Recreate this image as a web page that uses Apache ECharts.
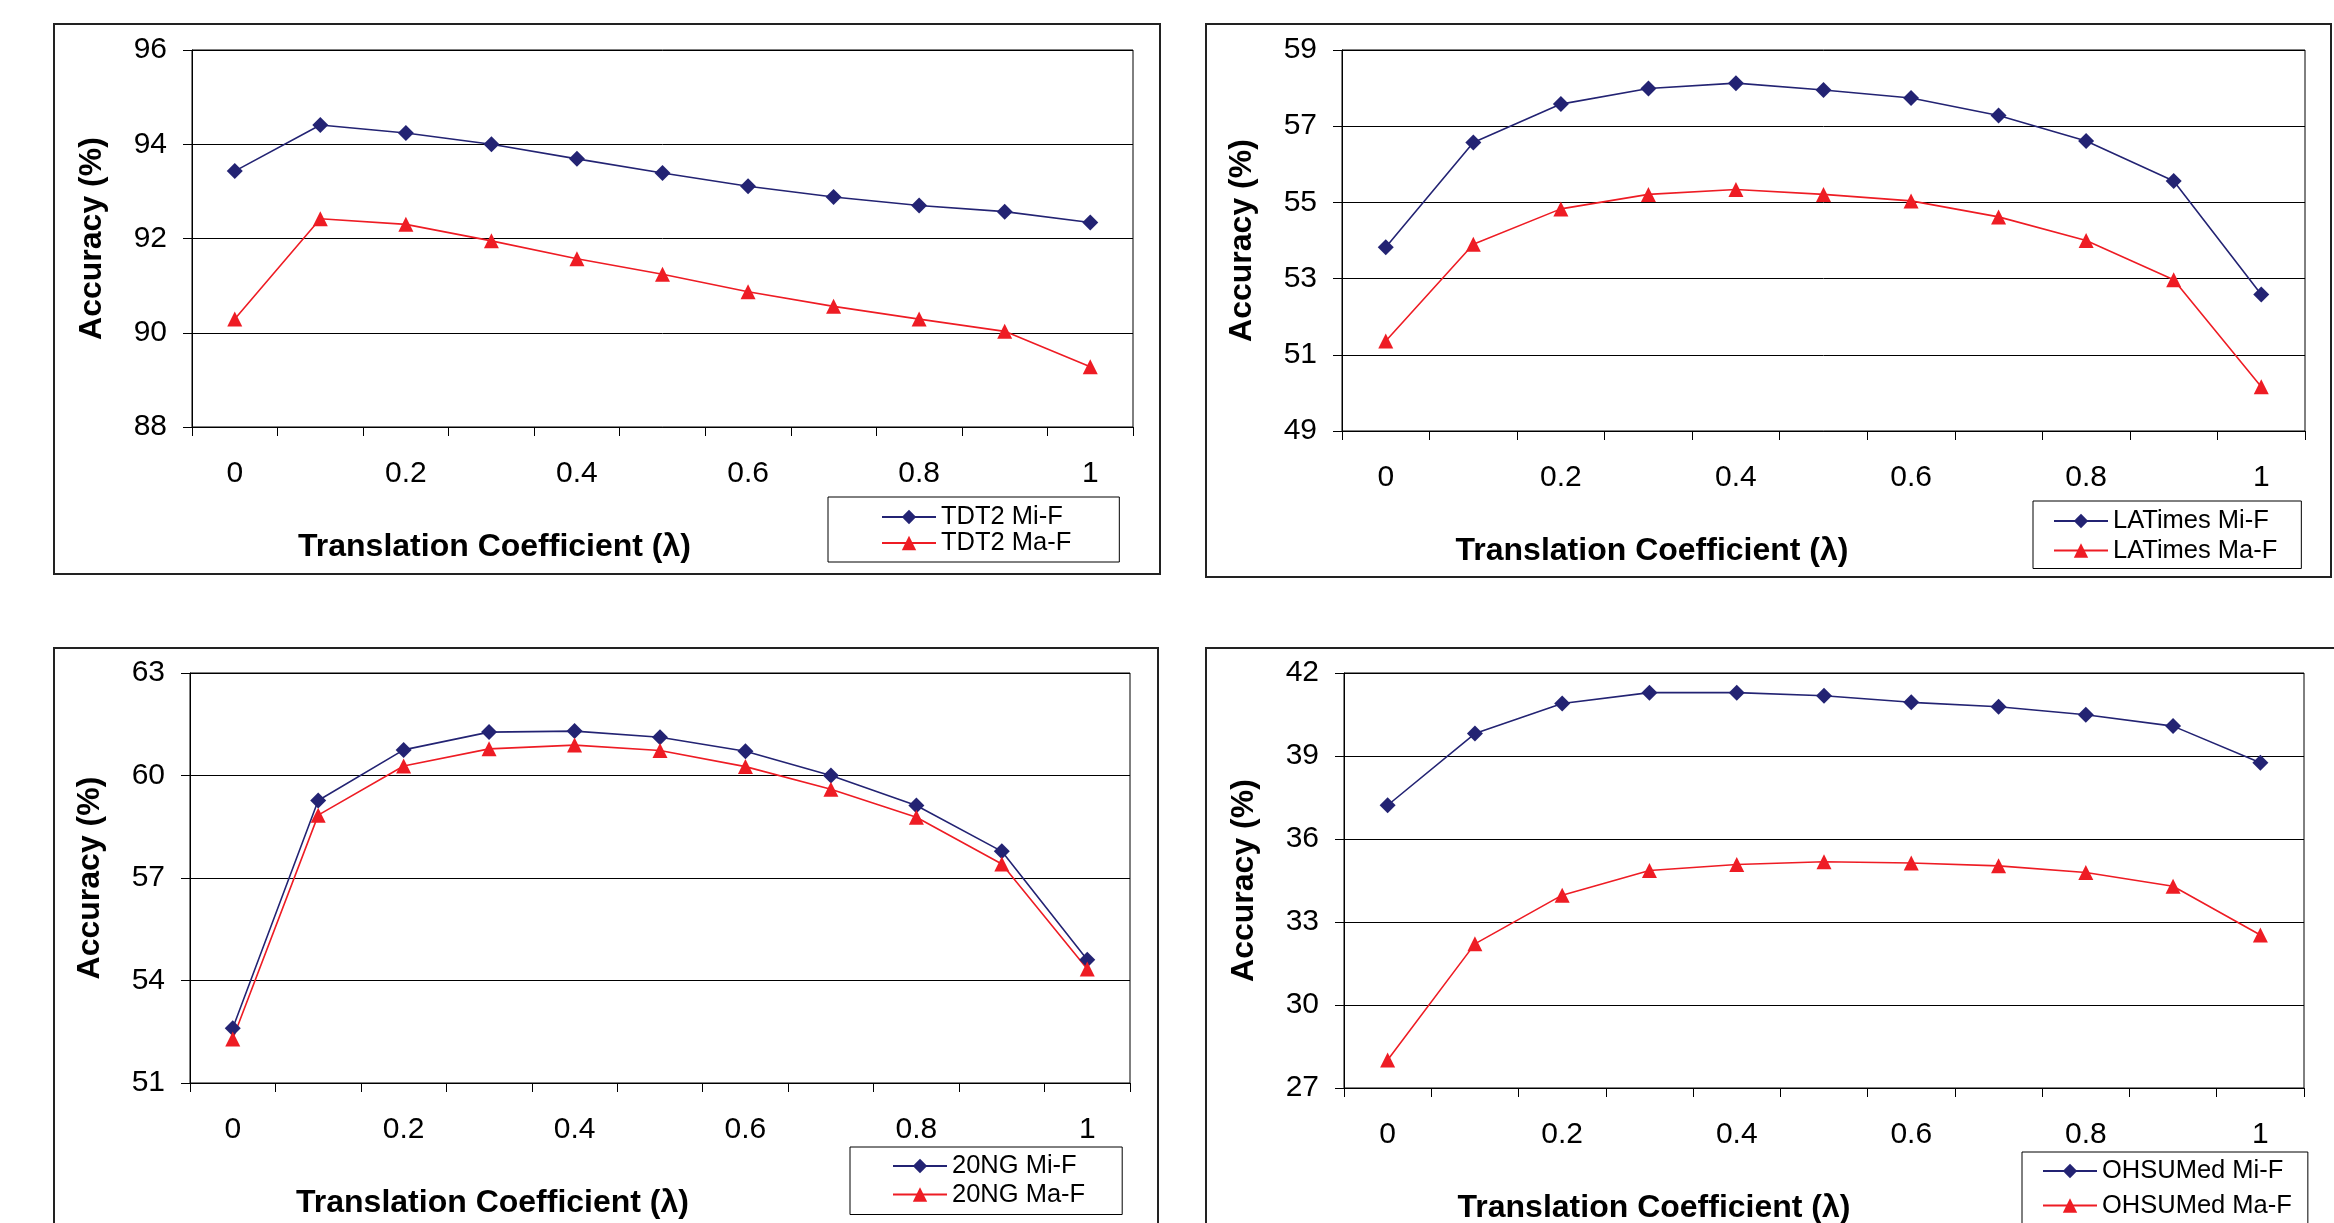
<!DOCTYPE html>
<html>
<head>
<meta charset="utf-8">
<script src="https://cdn.jsdelivr.net/npm/echarts@6/dist/echarts.min.js"></script>
<style>
html, body { margin: 0; padding: 0; background: #fff; }
#chart { width: 2334px; height: 1223px; }
</style>
</head>
<body>
<div id="chart"></div>
<script>
// x categories (translation coefficient lambda)
var lambdas = ['0', '0.1', '0.2', '0.3', '0.4', '0.5', '0.6', '0.7', '0.8', '0.9', '1'];

// TDT2
var tdt2Mi = [93.43, 94.41, 94.24, 94.0, 93.69, 93.39, 93.11, 92.88, 92.70, 92.57, 92.34];
var tdt2Ma = [90.29, 92.42, 92.30, 91.95, 91.57, 91.24, 90.87, 90.56, 90.29, 90.03, 89.28];
var tdt2Ticks = [88, 90, 92, 94, 96];

// LATimes
var laMi = [53.82, 56.57, 57.58, 57.99, 58.13, 57.95, 57.74, 57.28, 56.61, 55.56, 52.58];
var laMa = [51.36, 53.90, 54.83, 55.21, 55.34, 55.21, 55.04, 54.62, 54.00, 52.97, 50.16];
var laTicks = [49, 51, 53, 55, 57, 59];

// 20NG
var ngMi = [52.60, 59.27, 60.75, 61.27, 61.30, 61.12, 60.71, 60.0, 59.12, 57.78, 54.61];
var ngMa = [52.29, 58.84, 60.28, 60.78, 60.89, 60.73, 60.26, 59.60, 58.78, 57.41, 54.34];
var ngTicks = [51, 54, 57, 60, 63];

// OHSUMed
var ohMi = [37.22, 39.81, 40.90, 41.29, 41.29, 41.18, 40.94, 40.78, 40.49, 40.08, 38.76];
var ohMa = [28.01, 32.21, 33.97, 34.86, 35.08, 35.18, 35.13, 35.03, 34.79, 34.29, 32.53];
var ohTicks = [27, 30, 33, 36, 39, 42];

var chart = echarts.init(document.getElementById('chart'));
var font = 'Liberation Sans, Arial, sans-serif';
var blue = '#232373';
var red = '#ee1c24';

var panels = [
    {name: 'TDT2', mi: tdt2Mi, ma: tdt2Ma, ticks: tdt2Ticks,
     grid: {left: 192, top: 50, width: 941, height: 377},
     legend: {left: 828, top: 497, padding: [7, 48, 6, 53], itemGap: 0},
     box: [54, 24, 1106, 550], namePad: 336},
    {name: 'LATimes', mi: laMi, ma: laMa, ticks: laTicks,
     grid: {left: 1342, top: 50, width: 963, height: 381},
     legend: {left: 2033, top: 501, padding: [7, 24, 5, 20], itemGap: 3.5},
     box: [1206, 24, 1125, 553], namePad: 343},
    {name: '20NG', mi: ngMi, ma: ngMa, ticks: ngTicks,
     grid: {left: 190, top: 673, width: 940, height: 410},
     legend: {left: 850, top: 1147, padding: [6, 37, 7, 42], itemGap: 2.5},
     box: [54, 648, 1104, 620], namePad: 335},
    {name: 'OHSUMed', mi: ohMi, ma: ohMa, ticks: ohTicks,
     grid: {left: 1344, top: 673, width: 960, height: 415},
     legend: {left: 2022, top: 1152, padding: [6, 16, 8, 20], itemGap: 8.5},
     box: [1206, 648, 1130, 620], namePad: 340}
];

var grids = [], xAxes = [], yAxes = [], series = [], legends = [], graphics = [];

panels.forEach(function (p, i) {
    grids.push({
        left: p.grid.left, top: p.grid.top, width: p.grid.width, height: p.grid.height,
        show: true, borderColor: '#000', borderWidth: 1, backgroundColor: '#fff',
        containLabel: false, outerBoundsMode: 'none'
    });
    xAxes.push({
        type: 'category', gridIndex: i, data: lambdas, boundaryGap: true,
        axisLine: {show: true, lineStyle: {color: '#000', width: 1}},
        axisTick: {show: true, interval: 0, length: 9, inside: false, lineStyle: {color: '#000', width: 1}},
        axisLabel: {interval: 1, margin: 32, color: '#000', fontSize: 30, fontFamily: font},
        splitLine: {show: false},
        name: 'Translation Coefficient (λ)', nameLocation: 'middle', nameGap: 104,
        nameTextStyle: {fontSize: 32, fontWeight: 'bold', color: '#000', fontFamily: font,
            padding: [0, p.namePad, 0, 0]}
    });
    yAxes.push({
        type: 'value', gridIndex: i,
        min: p.ticks[0], max: p.ticks[p.ticks.length - 1],
        axisLine: {show: true, lineStyle: {color: '#000', width: 1}},
        axisTick: {show: true, length: 9, inside: false, customValues: p.ticks, lineStyle: {color: '#000', width: 1}},
        axisLabel: {margin: 25, color: '#000', fontSize: 30, fontFamily: font, customValues: p.ticks},
        splitLine: {show: true, lineStyle: {color: '#000', width: 1}},
        name: 'Accuracy (%)', nameLocation: 'middle', nameGap: 84,
        nameTextStyle: {fontSize: 32, fontWeight: 'bold', color: '#000', fontFamily: font}
    });
    series.push({
        name: p.name + ' Mi-F', type: 'line', xAxisIndex: i, yAxisIndex: i, data: p.mi,
        symbol: 'diamond', symbolSize: 16,
        lineStyle: {color: blue, width: 1.6}, itemStyle: {color: blue}
    });
    series.push({
        name: p.name + ' Ma-F', type: 'line', xAxisIndex: i, yAxisIndex: i, data: p.ma,
        symbol: 'triangle', symbolSize: 15,
        lineStyle: {color: red, width: 1.6}, itemStyle: {color: red}
    });
    legends.push({
        data: [p.name + ' Mi-F', p.name + ' Ma-F'],
        orient: 'vertical', left: p.legend.left, top: p.legend.top, height: 200,
        padding: p.legend.padding, itemGap: p.legend.itemGap,
        itemWidth: 54, itemHeight: 18,
        borderColor: '#000', borderWidth: 1, backgroundColor: '#fff',
        selectedMode: false,
        textStyle: {fontSize: 25.5, color: '#000', fontFamily: font}
    });
    // outer panel frame
    graphics.push({
        type: 'rect', z: -10,
        shape: {x: p.box[0], y: p.box[1], width: p.box[2], height: p.box[3]},
        style: {fill: 'none', stroke: '#222', lineWidth: 2}
    });
});

chart.setOption({
    animation: false,
    backgroundColor: '#fff',
    grid: grids,
    xAxis: xAxes,
    yAxis: yAxes,
    legend: legends,
    series: series,
    graphic: graphics
});
</script>
</body>
</html>
